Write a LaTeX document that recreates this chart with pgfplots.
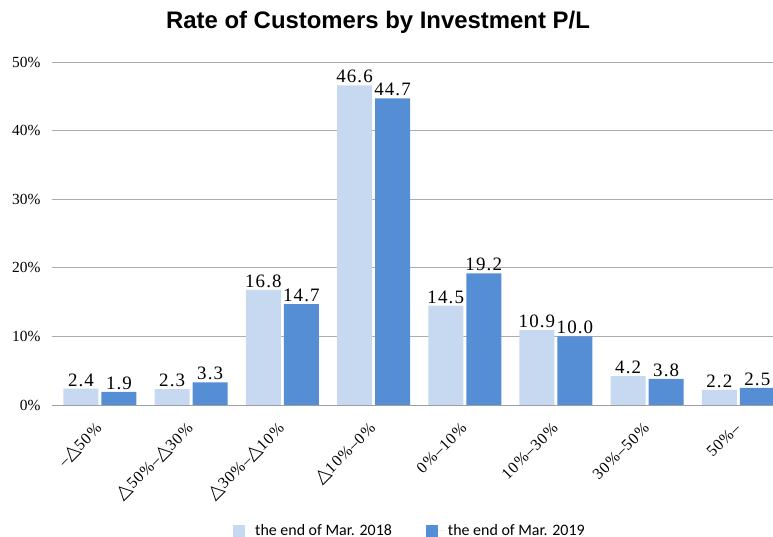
\documentclass[border=0pt]{standalone}
\usepackage{fontspec}
\setmainfont{Liberation Serif}
\newfontfamily\titlefont{Liberation Sans}
\newfontfamily\legfont{Carlito}
\newfontfamily\trifont{DejaVu Sans}
\newfontfamily\numfont{Liberation Serif}[LetterSpace=6]
\newfontfamily\tickfont{Liberation Serif}[LetterSpace=6]
\newcommand{\tr}{{\trifont\fontsize{19}{19}\selectfont △}}
\usepackage{pgfplots}
\pgfplotsset{compat=1.18}
\definecolor{lightb}{RGB}{198,217,240}
\definecolor{darkb}{RGB}{85,142,213}
\begin{document}
\begin{tikzpicture}
\begin{axis}[
  scale only axis, width=721bp, height=343bp,
  xmin=-0.526, xmax=7.38, ymin=0, ymax=50,
  axis line style={draw=none},
  ytick={0,10,20,30,40,50},
  ymajorgrids, grid style={draw=gray!65, line width=0.8bp},
  major tick length=0pt,
  xtick={0,1,2,3,4,5,6,7},
  xticklabels={–\tr50\%, \tr50\%–\tr30\%, \tr30\%–\tr10\%, \tr10\%–0\%, 0\%–10\%, 10\%–30\%, 30\%–50\%, 50\%–},
  xticklabel style={yshift=-20bp, xshift=0bp, rotate=45, anchor=east, font=\tickfont\fontsize{16}{17}\selectfont, inner sep=1bp},
  /pgf/number format/assume math mode=true,
  yticklabel={\pgfmathprintnumber{\tick}\%},
  yticklabel style={font=\fontsize{15.5}{16}\selectfont, xshift=-8bp},
  ybar, bar width=35bp,
  clip mode=individual,
  nodes near coords={\pgfmathprintnumber[fixed,fixed zerofill,precision=1]{\pgfplotspointmeta}},
  every node near coord/.append style={font=\numfont\fontsize{19}{20}\selectfont, inner sep=2bp},
  legend style={at={(0.4965,-0.367)}, anchor=center, draw=none, legend columns=2,
    font=\legfont\fontsize{16}{17}\selectfont,
    /tikz/every even column/.append style={column sep=32bp}},
  legend image code/.code={\fill[#1,draw=none] (0bp,-6bp) rectangle (12bp,6bp); \path (0bp,0bp) -- (20bp,0bp);},
]
\addplot[fill=lightb, draw=none, bar shift=-19bp] coordinates {(0,2.4) (1,2.3) (2,16.8) (3,46.6) (4,14.5) (5,10.9) (6,4.2) (7,2.2)};
\addplot[fill=darkb, draw=none, bar shift=19bp] coordinates {(0,1.9) (1,3.3) (2,14.7) (3,44.7) (4,19.2) (5,10.0) (6,3.8) (7,2.5)};
\legend{the end of Mar. 2018, the end of Mar. 2019}
\draw[gray!75, line width=0.9bp] (rel axis cs:0,0) -- (rel axis cs:1,0);
\coordinate (O) at (rel axis cs:0,0);
\end{axis}
\node[font=\titlefont\bfseries\fontsize{24}{27}\selectfont] at ([shift={(326bp,383bp)}]O) {Rate of Customers by Investment P/L};
\pgfresetboundingbox
\path ([shift={(-52bp,-132bp)}]O) rectangle ++(773bp,537bp);
\end{tikzpicture}
\end{document}
